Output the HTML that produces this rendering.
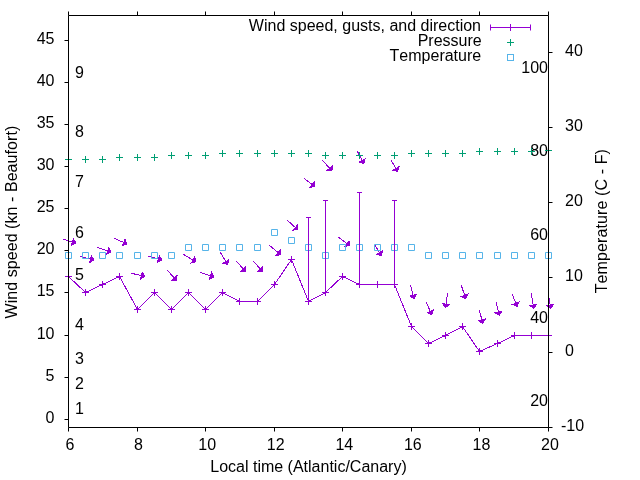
<!DOCTYPE html><html><head><meta charset="utf-8"><style>html,body{margin:0;padding:0;background:#fff;}svg{display:block;will-change:transform;}text{font-family:"Liberation Sans",sans-serif;font-size:16px;fill:#000;font-kerning:none;}</style></head><body>
<svg width="640" height="480" viewBox="0 0 640 480">
<rect width="640" height="480" fill="#fff"/>
<text x="54.5" y="422.59" text-anchor="end">0</text>
<text x="54.5" y="380.55" text-anchor="end">5</text>
<text x="54.5" y="338.51" text-anchor="end">10</text>
<text x="54.5" y="296.47" text-anchor="end">15</text>
<text x="54.5" y="254.43" text-anchor="end">20</text>
<text x="54.5" y="212.39" text-anchor="end">25</text>
<text x="54.5" y="170.35" text-anchor="end">30</text>
<text x="54.5" y="128.31" text-anchor="end">35</text>
<text x="54.5" y="86.27" text-anchor="end">40</text>
<text x="54.5" y="44.22" text-anchor="end">45</text>
<text x="561" y="431">-10</text>
<text x="565" y="356.09">0</text>
<text x="565" y="281.18">10</text>
<text x="565" y="206.27">20</text>
<text x="565" y="131.36">30</text>
<text x="565" y="56.45">40</text>
<text x="70" y="450" text-anchor="middle">6</text>
<text x="138.57" y="450" text-anchor="middle">8</text>
<text x="207.14" y="450" text-anchor="middle">10</text>
<text x="275.71" y="450" text-anchor="middle">12</text>
<text x="344.29" y="450" text-anchor="middle">14</text>
<text x="412.86" y="450" text-anchor="middle">16</text>
<text x="481.43" y="450" text-anchor="middle">18</text>
<text x="550" y="450" text-anchor="middle">20</text>
<text x="75" y="414.18">1</text>
<text x="75" y="388.96">2</text>
<text x="75" y="363.73">3</text>
<text x="75" y="330.1">4</text>
<text x="75" y="279.65">5</text>
<text x="75" y="237.61">6</text>
<text x="75" y="187.16">7</text>
<text x="75" y="136.71">8</text>
<text x="75" y="77.86">9</text>
<text x="548" y="406.03" text-anchor="end">20</text>
<text x="548" y="322.8" text-anchor="end">40</text>
<text x="548" y="239.57" text-anchor="end">60</text>
<text x="548" y="156.33" text-anchor="end">80</text>
<text x="548" y="73.1" text-anchor="end">100</text>
<text x="308.5" y="472" text-anchor="middle">Local time (Atlantic/Canary)</text>
<text transform="translate(17 222.1) rotate(-90)" text-anchor="middle" letter-spacing="0.06">Wind speed (kn - Beaufort)</text>
<text transform="translate(606.5 221.2) rotate(-90)" text-anchor="middle" letter-spacing="0.11">Temperature (C - F)</text>
<text x="481" y="31" text-anchor="end">Wind speed, gusts, and direction</text>
<text x="481.7" y="45.5" text-anchor="end">Pressure</text>
<text x="481.2" y="61.4" text-anchor="end">Temperature</text>
<path d="M490.5 27.5H530.5M490.5 24.5V30.5M530.5 24.5V30.5M510.5 24V31M507 27.5H514" stroke="#9400d3" stroke-width="1" fill="none"/>
<path d="M510.5 39V46M507 42.5H514" stroke="#009e73" stroke-width="1" fill="none"/>
<rect x="507.5" y="54.5" width="6" height="6" stroke="#56b4e9" stroke-width="1" fill="none"/>
<path d="M63.1 239.1L75.8 243M80.1 256.4L93.9 260M97.1 247.2L110.9 252M114.3 238.25L126.8 243.9M131.1 273.2L144.8 276.5M148.1 256.2L161.75 259.9M167.1 270.2L176.85 280.6M183.2 254.25L196 261.7M200.1 272.3L213.8 276.9M220.1 252.1L227.6 264.5M236.4 261.2L245.7 271.6M253.4 261.2L262.7 271.6M269.2 245.2L280.9 254.8M287.1 220.1L297.9 229.8M304 178.2L314.8 186.7M322.2 160.2L332 170.7M338.2 237L349.7 245.6M357.3 151.2L363.7 163.5M375 245.3L381.4 255.5M391.2 160.3L397.7 171.5M410.4 285L414 298.5M426.25 302.1L431.7 314.6M447.7 293.1L445.4 307.6M461.25 285.3L465.8 298.6M479.4 310.3L482.8 323.3M496.25 302.3L499.3 315.4M512.3 294.3L517.1 306.5M531.25 293.1L533.7 308.4M548.3 293.1L550.7 308.4" stroke="#9400d3" stroke-width="1" fill="none" shape-rendering="crispEdges"/>
<path d="M75.8 243L73.5 238.67L71.47 245.3ZM93.9 260L91.42 255.77L89.67 262.48ZM110.9 252L108.77 247.59L106.49 254.13ZM126.8 243.9L125.07 239.32L122.22 245.63ZM144.8 276.5L142.24 272.32L140.62 279.06ZM161.75 259.9L159.31 255.65L157.5 262.34ZM176.85 280.6L177.01 275.7L171.95 280.44ZM196 261.7L194.75 256.96L191.26 262.95ZM213.8 276.9L211.62 272.51L209.41 279.08ZM227.6 264.5L228.77 259.74L222.84 263.33ZM245.7 271.6L245.97 266.71L240.81 271.33ZM262.7 271.6L262.97 266.71L257.81 271.33ZM280.9 254.8L280.42 249.92L276.02 255.28ZM297.9 229.8L297.64 224.91L293.01 230.06ZM314.8 186.7L314.22 181.83L309.93 187.28ZM332 170.7L332.17 165.8L327.1 170.53ZM349.7 245.6L349 240.75L344.85 246.3ZM363.7 163.5L365.17 158.83L359.03 162.03ZM381.4 255.5L382.49 250.72L376.62 254.41ZM397.7 171.5L398.96 166.76L392.96 170.24ZM414 298.5L416.46 294.26L409.76 296.04ZM431.7 314.6L433.49 310.04L427.14 312.81ZM445.4 307.6L449.36 304.72L442.52 303.64ZM465.8 298.6L467.96 294.2L461.4 296.44ZM482.8 323.3L485.28 319.07L478.57 320.82ZM499.3 315.4L501.89 311.24L495.14 312.81ZM517.1 306.5L519.06 302.01L512.61 304.54ZM533.7 308.4L536.57 304.43L529.73 305.53ZM550.7 308.4L553.59 304.44L546.74 305.51Z" fill="#9400d3" stroke="#9400d3" stroke-width="1" stroke-linejoin="miter" shape-rendering="crispEdges"/>
<path d="M68.5 156v7M65 159.5h7M85.5 156v7M82 159.5h7M102.5 156v7M99 159.5h7M119.5 154v7M116 157.5h7M137.5 154v7M134 157.5h7M154.5 154v7M151 157.5h7M171.5 152v7M168 155.5h7M188.5 152v7M185 155.5h7M205.5 152v7M202 155.5h7M222.5 150v7M219 153.5h7M239.5 150v7M236 153.5h7M257.5 150v7M254 153.5h7M274.5 150v7M271 153.5h7M291.5 150v7M288 153.5h7M308.5 150v7M305 153.5h7M325.5 152v7M322 155.5h7M342.5 152v7M339 155.5h7M359.5 152v7M356 155.5h7M377.5 152v7M374 155.5h7M394.5 152v7M391 155.5h7M411.5 150v7M408 153.5h7M428.5 150v7M425 153.5h7M445.5 150v7M442 153.5h7M462.5 150v7M459 153.5h7M479.5 148v7M476 151.5h7M497.5 148v7M494 151.5h7M514.5 148v7M511 151.5h7M531.5 148v7M528 151.5h7M548.5 147v7M545 150.5h7" stroke="#009e73" stroke-width="1" fill="none"/>
<path d="M65.5 252.5h6v6h-6ZM82.5 252.5h6v6h-6ZM99.5 252.5h6v6h-6ZM116.5 252.5h6v6h-6ZM134.5 252.5h6v6h-6ZM151.5 252.5h6v6h-6ZM168.5 252.5h6v6h-6ZM185.5 244.5h6v6h-6ZM202.5 244.5h6v6h-6ZM219.5 244.5h6v6h-6ZM236.5 244.5h6v6h-6ZM254.5 244.5h6v6h-6ZM271.5 229.5h6v6h-6ZM288.5 237.5h6v6h-6ZM305.5 244.5h6v6h-6ZM322.5 252.5h6v6h-6ZM339.5 244.5h6v6h-6ZM356.5 244.5h6v6h-6ZM374.5 244.5h6v6h-6ZM391.5 244.5h6v6h-6ZM408.5 244.5h6v6h-6ZM425.5 252.5h6v6h-6ZM442.5 252.5h6v6h-6ZM459.5 252.5h6v6h-6ZM476.5 252.5h6v6h-6ZM494.5 252.5h6v6h-6ZM511.5 252.5h6v6h-6ZM528.5 252.5h6v6h-6ZM545.5 252.5h6v6h-6Z" stroke="#56b4e9" stroke-width="1" fill="none"/>
<polyline points="68.5,276.5 85.5,292.5 102.5,284.5 119.5,276.5 137.5,309.5 154.5,292.5 171.5,309.5 188.5,292.5 205.5,309.5 222.5,292.5 239.5,301.5 257.5,301.5 274.5,284.5 291.5,259.5 308.5,301.5 325.5,292.5 342.5,276.5 359.5,284.5 377.5,284.5 394.5,284.5 411.5,326.5 428.5,343.5 445.5,335.5 462.5,326.5 479.5,351.5 497.5,343.5 514.5,335.5 531.5,335.5 548.5,335.5" stroke="#9400d3" stroke-width="1" fill="none" shape-rendering="crispEdges"/>
<path d="M68.5 273v7M65 276.5h7M85.5 289v7M82 292.5h7M102.5 281v7M99 284.5h7M119.5 273v7M116 276.5h7M137.5 306v7M134 309.5h7M154.5 289v7M151 292.5h7M171.5 306v7M168 309.5h7M188.5 289v7M185 292.5h7M205.5 306v7M202 309.5h7M222.5 289v7M219 292.5h7M239.5 298v7M236 301.5h7M257.5 298v7M254 301.5h7M274.5 281v7M271 284.5h7M291.5 256v7M288 259.5h7M308.5 298v7M305 301.5h7M308.5 301.5V217.5M306 217.5h5M325.5 289v7M322 292.5h7M325.5 292.5V200.5M323 200.5h5M342.5 273v7M339 276.5h7M359.5 281v7M356 284.5h7M359.5 284.5V192.5M357 192.5h5M377.5 281v7M374 284.5h7M394.5 281v7M391 284.5h7M394.5 284.5V200.5M392 200.5h5M411.5 323v7M408 326.5h7M428.5 340v7M425 343.5h7M445.5 332v7M442 335.5h7M462.5 323v7M459 326.5h7M479.5 348v7M476 351.5h7M497.5 340v7M494 343.5h7M514.5 332v7M511 335.5h7M531.5 332v7M528 335.5h7M548.5 332v7M545 335.5h7" stroke="#9400d3" stroke-width="1" fill="none"/>
<path d="M68.5 15.5V427.5H548.5V15.5ZM64.5 419.5H68.5M64.5 377.5H68.5M64.5 335.5H68.5M64.5 292.5H68.5M64.5 250.5H68.5M64.5 208.5H68.5M64.5 166.5H68.5M64.5 124.5H68.5M64.5 82.5H68.5M64.5 40.5H68.5M548.5 427.5H552.5M548.5 352.5H552.5M548.5 277.5H552.5M548.5 202.5H552.5M548.5 127.5H552.5M548.5 52.5H552.5M68.5 427.5V431.5M68.5 15.5V11.5M137.5 427.5V431.5M137.5 15.5V11.5M205.5 427.5V431.5M205.5 15.5V11.5M274.5 427.5V431.5M274.5 15.5V11.5M342.5 427.5V431.5M342.5 15.5V11.5M411.5 427.5V431.5M411.5 15.5V11.5M479.5 427.5V431.5M479.5 15.5V11.5M548.5 427.5V431.5M548.5 15.5V11.5" stroke="#000" stroke-width="1" fill="none"/>
</svg></body></html>
